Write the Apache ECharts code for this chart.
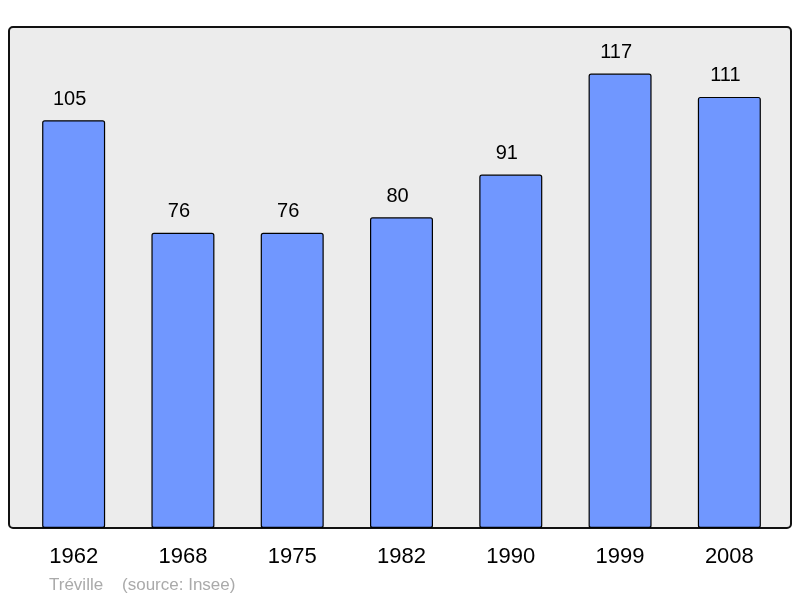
<!DOCTYPE html>
<html>
<head>
<meta charset="utf-8">
<script src="https://cdn.jsdelivr.net/npm/echarts@6/dist/echarts.min.js"></script>
<style>
  html, body { margin: 0; padding: 0; background: #fff; }
  #chart { width: 800px; height: 598px; }
</style>
</head>
<body>
<div id="chart"></div>
<script>
const years = ["1962", "1968", "1975", "1982", "1990", "1999", "2008"];
const population = [105, 76, 76, 80, 91, 117, 111];
const footnote = "Tréville    (source: Insee)";

const chart = echarts.init(document.getElementById("chart"));
const option = {
  animation: false,
  graphic: [
    {
      type: "rect",
      z: -10,
      shape: { x: 9, y: 27, width: 782, height: 501, r: 4 },
      style: { fill: "#ececec", stroke: "#111", lineWidth: 2 }
    },
    {
      type: "text",
      left: 49,
      top: 577,
      style: {
        text: footnote,
        fill: "#aaaaaa",
        fontSize: 17,
        fontFamily: "Liberation Sans"
      }
    }
  ],
  grid: { left: 19, right: 16, top: 27, bottom: 70 },
  xAxis: {
    type: "category",
    data: years,
    axisLine: { show: false },
    axisTick: { show: false },
    axisLabel: {
      color: "#000",
      fontSize: 22,
      fontFamily: "Liberation Sans",
      margin: 18
    }
  },
  yAxis: {
    type: "value",
    min: 0,
    max: 129,
    show: false,
    splitLine: { show: false }
  },
  series: [
    {
      type: "bar",
      data: population,
      barWidth: 63,
      itemStyle: {
        color: "#7097ff",
        borderColor: "#000",
        borderWidth: 1.2,
        borderRadius: 2
      },
      label: {
        show: true,
        position: "top",
        distance: 11,
        offset: [-4, 0],
        color: "#000",
        fontSize: 20,
        fontFamily: "Liberation Sans"
      }
    }
  ]
};
chart.setOption(option);
</script>
</body>
</html>
